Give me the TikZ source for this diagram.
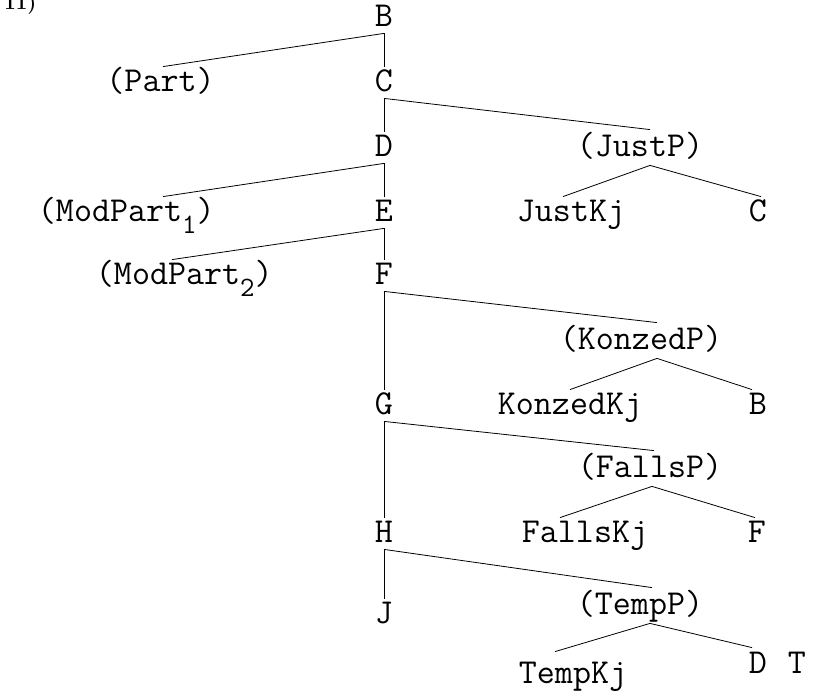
\documentclass[tikz,border=0pt]{standalone}
\usepackage{fontspec}
\usepackage{tikz}
\usetikzlibrary{positioning}
% lowered index digit, as typed
\newcommand\subno[1]{\raisebox{-6pt}{\fontsize{14}{14}\selectfont #1}}
\tikzset{
	line width=1pt,
	cat/.style={font=\ttfamily\fontsize{17.5}{20}\selectfont, inner xsep=0pt, inner ysep=3pt,
		text height=9.5pt, text depth=0pt, anchor=base},
	phrase/.style={cat, inner ysep=4pt},
	exno/.style={font=\bfseries\fontsize{10}{10}\selectfont, inner sep=0pt, anchor=base west}
}

\begin{document}
\begin{tikzpicture}[x=0.5pt, y=-0.5pt]
    \useasboundingbox (0,0) rectangle (819,694);
    \node[exno] (num) at (4,10) {11)};

    % main projection line
    \node[cat] (b) at (384,27) {B};
    \node[cat] (c) at (384,92) {C};
    \node[cat] (d) at (384,157) {D};
    \node[cat] (e) at (384,222) {E};
    \node[cat] (f) at (384,285) {F};
    \node[cat] (g) at (384,415) {G};
    \node[cat] (h) at (384,543) {H};
    \node[cat] (j) at (384,624) {J};

    % particles on the left
    \node[cat, anchor=base east] (part) at (215,92) {(Part)};
    \node[cat, anchor=base east] (modpart1) at (215,222) {(ModPart\subno{1})};
    \node[cat, anchor=base east] (modpart2) at (273,285) {(ModPart\subno{2})};

    % conjunction phrases on the right
    \node[phrase] (justp) at (640,157) {(JustP)};
    \node[cat] (justkj) at (571,222) {JustKj};
    \node[cat] (justc) at (758,222) {C};
    \node[phrase] (konzedp) at (641,350) {(KonzedP)};
    \node[cat] (konzedkj) at (570,415) {KonzedKj};
    \node[cat] (konzedb) at (758,415) {B};
    \node[phrase] (fallsp) at (650,478) {(FallsP)};
    \node[cat] (fallskj) at (585,543) {FallsKj};
    \node[cat] (fallsf) at (757,543) {F};
    \node[phrase] (tempp) at (640,615) {(TempP)};
    \node[cat] (tempkj) at (573,683) {TempKj};
    \node[cat] (tempd) at (758,673) {D};
    \node[cat] (tempt) at (797,673) {T};

    \path (b.south) edge (c.north);
    \path (c.south) edge (d.north);
    \path (d.south) edge (e.north);
    \path (e.south) edge (f.north);
    \path (f.south) edge (g.north);
    \path (g.south) edge (h.north);
    \path (h.south) edge (j.north);

    \path (b.south) edge ([xshift=-26pt]part.north east);
    \path (d.south) edge ([xshift=-26pt]modpart1.north east);
    \path (e.south) edge ([xshift=-50.5pt]modpart2.north east);

    \path (c.south) edge ([xshift=5pt]justp.north);
    \path ([xshift=5pt]justp.south) edge ([xshift=-4pt]justkj.north)
                                    edge ([xshift=1.5pt]justc.north);
    \path (f.south) edge ([xshift=8pt]konzedp.north);
    \path ([xshift=8pt]konzedp.south) edge (konzedkj.north)
                                      edge ([xshift=-3pt]konzedb.north);
    \path (g.south) edge ([xshift=2pt]fallsp.north);
    \path ([xshift=1pt]fallsp.south) edge ([xshift=-12.5pt]fallskj.north)
                                     edge ([xshift=-1pt]fallsf.north);
    \path (h.south) edge ([xshift=6pt]tempp.north);
    \path ([xshift=5pt]tempp.south) edge ([xshift=-9pt,yshift=3pt]tempkj.north)
                                    edge ([xshift=-3pt]tempd.north);
\end{tikzpicture}
\end{document}
